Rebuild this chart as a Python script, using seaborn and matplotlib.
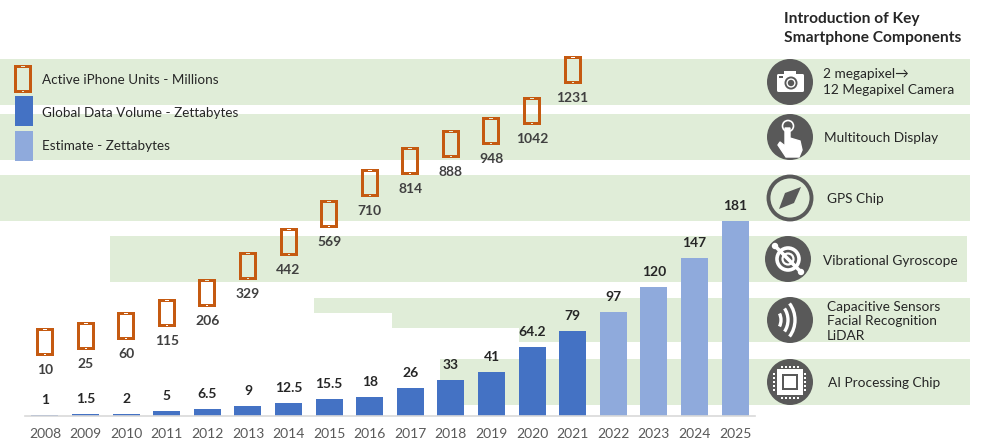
import matplotlib
matplotlib.use("Agg")
import numpy as np
import pandas as pd
import seaborn as sns
import matplotlib.pyplot as plt
from matplotlib.path import Path
from matplotlib.patches import Rectangle, Circle, Polygon, Arc, FancyBboxPatch

years = [str(y) for y in range(2008, 2026)]
data_volume = [1, 1.5, 2, 5, 6.5, 9, 12.5, 15.5, 18, 26, 33, 41, 64.2, 79, 97, 120, 147, 181]
volume_labels = ["1", "1.5", "2", "5", "6.5", "9", "12.5", "15.5", "18", "26", "33", "41", "64.2", "79", "97", "120", "147", "181"]
estimate_from = "2022"
iphone_years = years[:14]
iphone_units = [10, 25, 60, 115, 206, 329, 442, 569, 710, 814, 888, 948, 1042, 1231]
legend_labels = ["Active iPhone Units - Millions", "Global Data Volume - Zettabytes", "Estimate - Zettabytes"]
panel_title = ["Introduction of Key", "Smartphone Components"]
components = ["2 megapixel\u2192\n12 Megapixel Camera", "Multitouch Display", "GPS Chip", "Vibrational Gyroscope",
              "Capacitive Sensors", "Facial Recognition", "LiDAR", "AI Processing Chip"]

BLUE, LIGHT, ORANGE, GREEN, DARK = "#4472C4", "#8FAADC", "#C55A11", "#E0EDD8", "#595959"
sns.set_theme(style="white")
plt.rcParams["font.family"] = ["Lato", "DejaVu Sans"]

W, H = 998, 446
fig = plt.figure(figsize=(W / 100, H / 100), dpi=100)

# pixel canvas for bands, legend and icons
bg = fig.add_axes([0, 0, 1, 1], zorder=0)
bg.set_xlim(0, W); bg.set_ylim(H, 0); bg.axis("off")
bands = [(0, 59, 970, 105), (0, 114, 970, 160), (0, 175, 970, 221), (110, 236, 967, 282),
         (314, 298, 970, 313), (392, 313, 970, 328), (519, 328, 970, 342), (440, 359, 970, 405)]
for x0, y0, x1, y1 in bands:
    bg.add_patch(Rectangle((x0, y0), x1 - x0, y1 - y0, fc=GREEN, ec="none"))

# bars
px = lambda x0, y0, x1, y1: [x0 / W, 1 - y1 / H, (x1 - x0) / W, (y1 - y0) / H]
ax = fig.add_axes(px(24.7, 30, 755.3, 416), zorder=1)
ax.patch.set_alpha(0)
df = pd.DataFrame({"year": years, "volume": data_volume})
df["kind"] = ["Estimate" if y >= estimate_from else "Global" for y in years]
sns.barplot(data=df, x="year", y="volume", hue="kind", dodge=False, palette={"Global": BLUE, "Estimate": LIGHT},
            width=0.665, legend=False, ax=ax, saturation=1, linewidth=0)
ax.set_ylim(0, 386 / 1.077)
ax.set_xlim(-0.5, 17.5)
ax.set_xlabel(""); ax.set_ylabel(""); ax.set_yticks([])
for s in ["top", "left", "right"]:
    ax.spines[s].set_visible(False)
ax.spines["bottom"].set_color("#D9D9D9"); ax.spines["bottom"].set_linewidth(1.2)
ax.tick_params(axis="x", length=0, pad=9, labelsize=10, labelcolor="#595959")
for i, (v, t) in enumerate(zip(data_volume, volume_labels)):
    ax.annotate(t, (i, v), xytext=(0, 15), textcoords="offset pixels", ha="center", va="center",
                fontsize=10, fontweight="bold", color="#262626")

# phones on their own scale (the reference spaces the smallest values a little closer)
outer = np.array([[-9, -14], [9, -14], [9, 14], [-9, 14], [-9, -14]], float)
inner = np.array([[-6.3, -10.8], [-6.3, 10.8], [6.3, 10.8], [6.3, -10.8], [-6.3, -10.8]], float)
slit = np.array([[-2, 12], [-2, 13.1], [2, 13.1], [2, 12], [-2, 12]], float)
dot = np.array([[-1, -13.2], [-1, -12], [1, -12], [1, -13.2], [-1, -13.2]], float)
codes = [Path.MOVETO] + [Path.LINETO] * 3 + [Path.CLOSEPOLY]
phone = Path(np.vstack([outer, inner, slit, dot]), codes * 4)
ax2 = fig.add_axes(px(24.7, 30, 755.3, 416), zorder=2)
ax2.patch.set_alpha(0); ax2.axis("off")
pf = pd.DataFrame({"year": iphone_years, "units": iphone_units})
pf["pos"] = [years.index(y) for y in iphone_years]
sns.scatterplot(data=pf, x="pos", y="units", marker=phone, s=406, color=ORANGE, linewidth=0, ax=ax2, legend=False)
grid = np.linspace(-1500, 4000, 5501)
def fwd(u):
    u = np.asarray(u, float)
    return 0.218 * u + 6 - 9 * np.exp(-np.maximum(u, 0) / 30)
def inv(v):
    return np.interp(v, fwd(grid), grid)
ax2.set_yscale("function", functions=(fwd, inv))
ax2.set_xlim(-0.5, 17.5)
ax2.set_ylim(float(inv(-72)), float(inv(-72 + 386)))
ax2.set_xlabel(""); ax2.set_ylabel("")
for x, u in zip(pf["pos"], iphone_units):
    ax2.annotate(str(u), (x, u), xytext=(0, -28), textcoords="offset pixels", ha="center", va="center",
                 fontsize=10, fontweight="bold", color="#404040")

# legend
bg.scatter([23], [79], marker=phone, s=406, color=ORANGE, linewidth=0, zorder=3)
bg.add_patch(Rectangle((15, 96), 18, 30, fc=BLUE, ec="none", zorder=3))
bg.add_patch(Rectangle((15, 131), 18, 30, fc=LIGHT, ec="none", zorder=3))
for y, t in zip([80, 113, 146], legend_labels):
    bg.text(42, y, t, va="center", fontsize=9.7, color="#262626")

# panel
for y, t in zip([19, 38], panel_title):
    bg.text(784, y, t, va="center", fontsize=11.2, fontweight="bold", color="#262626")
for (x, y), t in zip([(823, 82), (824, 138), (827, 199), (823, 261), (827, 307), (827, 321), (827, 336), (828, 383)], components):
    bg.text(x, y, t, va="center", fontsize=9.8, color="#262626", linespacing=1.3)

W_ = "white"
def disc(cx, cy):
    bg.add_patch(Circle((cx, cy), 23, fc=DARK, ec="none", zorder=3))
# camera
disc(790, 82)
bg.add_patch(FancyBboxPatch((777, 74), 27, 18, boxstyle="round,pad=0,rounding_size=1.5", fc=W_, ec="none", zorder=4))
bg.add_patch(Rectangle((784, 71), 12, 4, fc=W_, ec="none", zorder=4))
bg.add_patch(Circle((791, 83), 6.5, fc=DARK, ec="none", zorder=5))
bg.add_patch(Circle((791, 83), 4.6, fc=W_, ec="none", zorder=6))
bg.add_patch(Circle((791, 83), 3.2, fc=DARK, ec="none", zorder=7))
bg.add_patch(Rectangle((779, 76), 4, 2, fc=DARK, ec="none", zorder=5))
# touch
disc(790, 137)
bg.add_patch(Polygon([(785, 128), (790, 128), (790, 138), (800, 141), (802, 150), (799, 157), (786, 157), (778, 145), (780, 142), (785, 146)],
                     fc=W_, ec=W_, lw=1, zorder=4))
bg.add_patch(Circle((788, 126), 5.5, fc="none", ec=W_, lw=1.2, zorder=4))
# compass
bg.add_patch(Circle((790, 198), 21.5, fc="none", ec=DARK, lw=2.8, zorder=3))
bg.add_patch(Polygon([(801, 187), (794, 203), (779, 209), (785, 193)], fc=DARK, ec="none", zorder=4))
# gyroscope
disc(788, 259)
bg.plot([775, 801], [246, 272], color=W_, lw=2.6, zorder=4)
bg.add_patch(Circle((775, 246), 3.2, fc=W_, ec="none", zorder=5))
bg.add_patch(Circle((801, 272), 3.2, fc=W_, ec="none", zorder=5))
bg.add_patch(Circle((788, 259), 11, fc="none", ec=W_, lw=2.6, zorder=4))
bg.add_patch(Circle((788, 259), 5.5, fc="none", ec=W_, lw=1.6, zorder=4))
# sensors
disc(790, 320)
for r in (8, 15, 22):
    bg.add_patch(Arc((773, 320), 2 * r, 2 * r + 6, theta1=-45, theta2=45, ec=W_, lw=2.4, zorder=4))
# chip
disc(790, 382)
bg.add_patch(Rectangle((777, 369), 26, 26, fc=W_, ec="none", zorder=4))
bg.add_patch(Rectangle((782, 374), 16, 16, fc=DARK, ec="none", zorder=5))
bg.add_patch(Rectangle((784, 376), 12, 12, fc=W_, ec="none", zorder=6))
for d in range(-8, 9, 4):
    bg.add_patch(Rectangle((788.8 + d, 365.5), 2.4, 2, fc=W_, ec="none", zorder=4))
    bg.add_patch(Rectangle((788.8 + d, 396.5), 2.4, 2, fc=W_, ec="none", zorder=4))
    bg.add_patch(Rectangle((773.5, 380.8 + d), 2, 2.4, fc=W_, ec="none", zorder=4))
    bg.add_patch(Rectangle((804.5, 380.8 + d), 2, 2.4, fc=W_, ec="none", zorder=4))

fig.savefig("out.png", dpi=100)
